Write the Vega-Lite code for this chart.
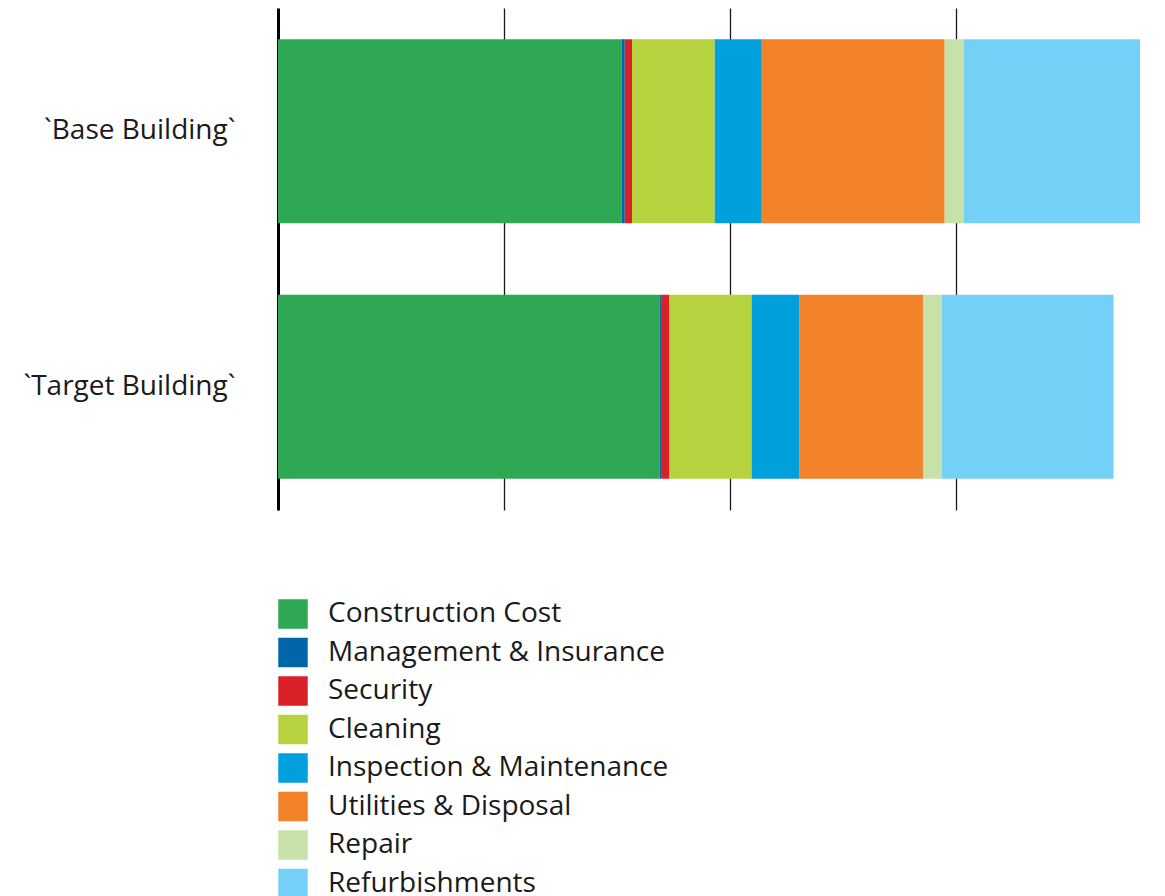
{
  "$schema": "https://vega.github.io/schema/vega-lite/v6.json",
  "autosize": "none",
  "padding": {"left": 278, "top": 8, "right": 25, "bottom": 386},
  "width": 862,
  "height": 502,
  "background": "white",
  "config": {
    "view": {"stroke": null},
    "font": "Open Sans"
  },
  "data": {
    "values": [
      {"building": "`Base Building`", "category": "Construction Cost", "rank": 1, "cost": 1.521},
      {"building": "`Base Building`", "category": "Management & Insurance", "rank": 2, "cost": 0.013},
      {"building": "`Base Building`", "category": "Security", "rank": 3, "cost": 0.032},
      {"building": "`Base Building`", "category": "Cleaning", "rank": 4, "cost": 0.366},
      {"building": "`Base Building`", "category": "Inspection & Maintenance", "rank": 5, "cost": 0.208},
      {"building": "`Base Building`", "category": "Utilities & Disposal", "rank": 6, "cost": 0.809},
      {"building": "`Base Building`", "category": "Repair", "rank": 7, "cost": 0.083},
      {"building": "`Base Building`", "category": "Refurbishments", "rank": 8, "cost": 0.781},
      {"building": "`Target Building`", "category": "Construction Cost", "rank": 1, "cost": 1.689},
      {"building": "`Target Building`", "category": "Management & Insurance", "rank": 2, "cost": 0.009},
      {"building": "`Target Building`", "category": "Security", "rank": 3, "cost": 0.034},
      {"building": "`Target Building`", "category": "Cleaning", "rank": 4, "cost": 0.363},
      {"building": "`Target Building`", "category": "Inspection & Maintenance", "rank": 5, "cost": 0.210},
      {"building": "`Target Building`", "category": "Utilities & Disposal", "rank": 6, "cost": 0.548},
      {"building": "`Target Building`", "category": "Repair", "rank": 7, "cost": 0.083},
      {"building": "`Target Building`", "category": "Refurbishments", "rank": 8, "cost": 0.760}
    ]
  },
  "mark": {"type": "bar"},
  "encoding": {
    "y": {
      "field": "building",
      "type": "nominal",
      "sort": ["`Base Building`", "`Target Building`"],
      "scale": {"paddingInner": 0.28, "paddingOuter": 0.122},
      "axis": {
        "title": null,
        "ticks": false,
        "domainColor": "#000000",
        "domainWidth": 3,
        "labelFontSize": 28,
        "labelColor": "#1a1a1a",
        "labelPadding": 43,
        "labelFont": "Open Sans",
        "labelLimit": 400
      }
    },
    "x": {
      "field": "cost",
      "type": "quantitative",
      "stack": "zero",
      "scale": {"domain": [0, 3.813], "nice": false},
      "axis": {
        "title": null,
        "labels": false,
        "ticks": false,
        "domain": false,
        "grid": true,
        "values": [1, 2, 3],
        "gridColor": "#1a1a1a",
        "gridWidth": 1.3,
        "gridOpacity": 1
      }
    },
    "order": {"field": "rank", "type": "quantitative", "sort": "ascending"},
    "color": {
      "field": "category",
      "type": "nominal",
      "sort": ["Construction Cost", "Management & Insurance", "Security", "Cleaning", "Inspection & Maintenance", "Utilities & Disposal", "Repair", "Refurbishments"],
      "scale": {
        "domain": ["Construction Cost", "Management & Insurance", "Security", "Cleaning", "Inspection & Maintenance", "Utilities & Disposal", "Repair", "Refurbishments"],
        "range": ["#2ea853", "#0066a8", "#da2128", "#b6d23f", "#00a0dc", "#f28229", "#c8e1a9", "#74d0f6"]
      },
      "legend": {
        "title": null,
        "orient": "none",
        "legendX": 0,
        "legendY": 591,
        "symbolType": "square",
        "symbolSize": 870,
        "symbolStrokeWidth": 0,
        "symbolOpacity": 1,
        "labelFontSize": 28,
        "labelFont": "Open Sans",
        "labelColor": "#1a1a1a",
        "labelOffset": 20,
        "rowPadding": 8.5,
        "labelLimit": 600
      }
    }
  }
}
